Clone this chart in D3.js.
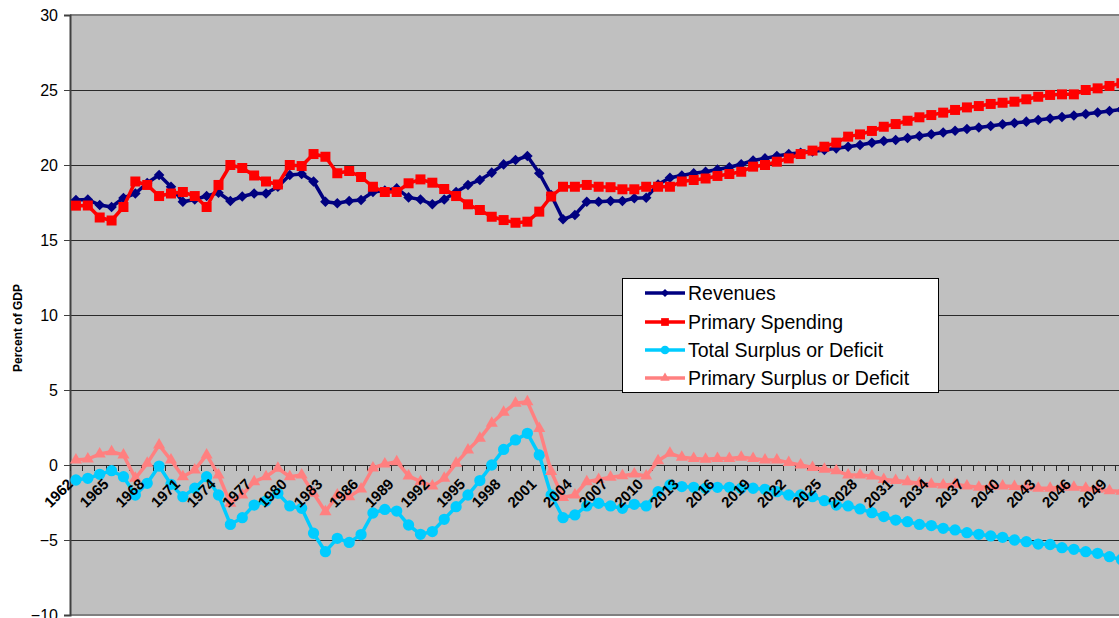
<!DOCTYPE html>
<html>
<head>
<meta charset="utf-8">
<script src="https://cdn.jsdelivr.net/npm/d3@7"></script>
<style>
  html, body { margin: 0; padding: 0; background: #ffffff; }
  svg { display: block; font-family: "Liberation Sans", Arial, sans-serif; }
</style>
</head>
<body>
<svg id="chart" width="1119" height="618"></svg>
<script>
// ---------------- data ----------------
const years = d3.range(1962, 2051);
const tickLabels = ["1962","1965","1968","1971","1974","1977","1980","1983","1986","1989","1992","1995","1998","2001","2004","2007","2010","2013","2016","2019","2022","2025","2028","2031","2034","2037","2040","2043","2046","2049"];
const yTicks = [-10, -5, 0, 5, 10, 15, 20, 25, 30];

const revenues = [17.67,17.7,17.33,17.2,17.8,18.1,18.8,19.33,18.55,17.55,17.7,17.93,18.15,17.6,17.9,18.1,18.1,18.55,19.33,19.4,18.9,17.55,17.45,17.6,17.67,18.2,18.3,18.44,17.84,17.7,17.38,17.7,18.2,18.67,19.0,19.49,20.04,20.33,20.6,19.45,18.0,16.38,16.67,17.55,17.55,17.6,17.6,17.78,17.82,18.7,19.15,19.3,19.45,19.55,19.7,19.85,20.05,20.3,20.44,20.6,20.73,20.82,20.9,21.0,21.11,21.22,21.33,21.48,21.6,21.67,21.8,21.93,22.05,22.17,22.28,22.4,22.5,22.6,22.72,22.8,22.89,23.0,23.1,23.2,23.3,23.4,23.5,23.6,23.7];
const primarySpending = [17.29,17.3,16.5,16.3,17.2,18.9,18.67,17.93,18.1,18.2,17.93,17.2,18.67,20.0,19.8,19.3,18.9,18.7,20.0,19.93,20.73,20.55,19.45,19.6,19.2,18.55,18.2,18.2,18.78,19.04,18.82,18.4,17.93,17.38,17.0,16.55,16.33,16.15,16.22,16.89,17.9,18.55,18.55,18.67,18.55,18.52,18.38,18.38,18.55,18.55,18.55,18.9,19.0,19.1,19.27,19.4,19.55,19.89,20.0,20.22,20.44,20.73,20.96,21.22,21.49,21.89,22.04,22.27,22.55,22.73,22.95,23.18,23.33,23.49,23.67,23.84,23.93,24.07,24.15,24.22,24.38,24.55,24.67,24.71,24.71,25.0,25.11,25.27,25.45];
const totalSurplus = [-1.0,-0.89,-0.62,-0.38,-0.78,-2.0,-1.22,-0.07,-1.29,-2.11,-1.55,-0.78,-2.0,-3.96,-3.51,-2.67,-2.4,-1.89,-2.73,-2.89,-4.55,-5.78,-4.89,-5.16,-4.64,-3.2,-2.96,-3.07,-4.0,-4.62,-4.44,-3.62,-2.78,-2.0,-1.04,0.0,1.04,1.67,2.11,0.67,-2.0,-3.51,-3.33,-2.73,-2.55,-2.73,-2.89,-2.62,-2.73,-1.78,-1.33,-1.44,-1.49,-1.55,-1.49,-1.49,-1.55,-1.55,-1.62,-1.78,-2.0,-2.0,-2.11,-2.38,-2.67,-2.73,-2.93,-3.18,-3.44,-3.67,-3.78,-3.96,-4.04,-4.22,-4.33,-4.51,-4.62,-4.73,-4.82,-5.0,-5.11,-5.27,-5.3,-5.51,-5.62,-5.78,-5.89,-6.11,-6.3];
const primarySurplus = [0.33,0.4,0.73,0.89,0.67,-0.89,0.11,1.33,0.33,-0.78,-0.33,0.67,-0.67,-2.55,-2.0,-1.11,-0.78,-0.22,-0.78,-0.67,-1.89,-3.11,-2.0,-2.11,-1.6,-0.2,0.07,0.22,-0.73,-1.11,-1.4,-0.89,0.11,1.0,1.78,2.78,3.51,4.11,4.22,2.44,-0.44,-2.16,-2.0,-1.11,-0.96,-0.82,-0.71,-0.6,-0.73,0.29,0.78,0.51,0.44,0.38,0.44,0.44,0.51,0.44,0.33,0.33,0.16,0.0,-0.16,-0.29,-0.38,-0.67,-0.67,-0.73,-0.96,-1.04,-1.11,-1.22,-1.29,-1.33,-1.29,-1.4,-1.49,-1.44,-1.4,-1.44,-1.49,-1.55,-1.55,-1.49,-1.49,-1.55,-1.62,-1.71,-1.75];

const seriesNames = ["Revenues", "Primary Spending", "Total Surplus or Deficit", "Primary Surplus or Deficit"];
const seriesValues = [revenues, primarySpending, totalSurplus, primarySurplus];
const yTitle = "Percent of GDP";

// ---------------- styles ----------------
const colors = ["#000080", "#FF0000", "#00CCFF", "#FF8080"];
const symbols = [
  {type: d3.symbolSquare, size: 56, rotate: 45},   // diamond
  {type: d3.symbolSquare, size: 100, rotate: 0},
  {type: d3.symbolCircle, size: 100, rotate: 0},
  {type: d3.symbolTriangle, size: 64, rotate: 0}
];

// ---------------- layout ----------------
const svg = d3.select("#chart");
const plotLeft = 70, plotTop = 15, plotBottom = 615;
const catW = 11.88;
const x = d3.scaleBand().domain(years).range([plotLeft, plotLeft + years.length * catW]).padding(0);
const y = d3.scaleLinear().domain([-10, 30]).range([plotBottom, plotTop]);
const cx = d => x(d) + x.bandwidth() / 2;

// plot background
svg.append("rect")
  .attr("x", plotLeft).attr("y", plotTop)
  .attr("width", x.range()[1] - plotLeft).attr("height", plotBottom - plotTop)
  .attr("fill", "#C0C0C0");

// gridlines
svg.append("g").selectAll("line").data(yTicks.filter(v => v !== 30 && v !== -10)).join("line")
  .attr("x1", plotLeft).attr("x2", x.range()[1])
  .attr("y1", d => Math.round(y(d)) + 0.5).attr("y2", d => Math.round(y(d)) + 0.5)
  .attr("stroke", "#2a2a2a").attr("stroke-width", 1);

// plot border (top / bottom)
svg.append("line").attr("x1", plotLeft).attr("x2", x.range()[1])
  .attr("y1", y(30)).attr("y2", y(30)).attr("stroke", "#808080").attr("stroke-width", 2);
svg.append("line").attr("x1", plotLeft).attr("x2", x.range()[1])
  .attr("y1", y(-10)).attr("y2", y(-10)).attr("stroke", "#808080").attr("stroke-width", 2);

// y axis
const yAxis = d3.axisLeft(y).tickValues(yTicks).tickSize(6).tickPadding(6).tickFormat(d3.format("d"));
const gy = svg.append("g").attr("transform", `translate(${plotLeft},0)`).call(yAxis);
gy.select(".domain").attr("stroke", "#404040").attr("stroke-width", 2);
gy.selectAll(".tick line").attr("stroke", "#404040");
gy.selectAll(".tick text").attr("font-size", 16).attr("fill", "#000")
  .attr("font-family", "Liberation Sans, Arial, sans-serif");

// x axis on zero line: tick marks at category boundaries
svg.append("g").selectAll("line").data(years).join("line")
  .attr("x1", d => Math.round(x(d)) + 0.5).attr("x2", d => Math.round(x(d)) + 0.5)
  .attr("y1", y(0)).attr("y2", y(0) + 6)
  .attr("stroke", "#2a2a2a").attr("stroke-width", 1);

// series
seriesValues.forEach((vals, i) => {
  const pts = years.map((yr, j) => [yr, vals[j]]);
  svg.append("path").datum(pts)
    .attr("fill", "none").attr("stroke", colors[i]).attr("stroke-width", 3.5)
    .attr("stroke-linejoin", "round")
    .attr("d", d3.line().x(d => cx(d[0])).y(d => y(d[1])));
  const sym = d3.symbol().type(symbols[i].type).size(symbols[i].size);
  svg.append("g").selectAll("path").data(pts).join("path")
    .attr("transform", d => `translate(${cx(d[0])},${y(d[1])}) rotate(${symbols[i].rotate})`)
    .attr("d", sym).attr("fill", colors[i]);
});

// x tick labels (rotated, drawn above the series)
svg.append("g").selectAll("text").data(tickLabels).join("text")
  .attr("transform", d => `translate(${x(+d) + 4},${y(0) + 20}) rotate(-45)`)
  .attr("text-anchor", "end")
  .attr("font-size", 15).attr("font-weight", "bold").attr("fill", "#000")
  .text(d => d);

// y axis title
svg.append("text")
  .attr("transform", `translate(22,328) rotate(-90)`)
  .attr("text-anchor", "middle")
  .attr("font-size", 12).attr("font-weight", "bold").attr("fill", "#000")
  .text(yTitle);

// legend
const lg = svg.append("g");
lg.append("rect").attr("x", 622.5).attr("y", 278.5).attr("width", 316).attr("height", 114)
  .attr("fill", "#fff").attr("stroke", "#000").attr("stroke-width", 1);
const legY = [293, 322, 350, 378];
seriesNames.forEach((name, i) => {
  const yy = legY[i];
  lg.append("line").attr("x1", 645).attr("x2", 685).attr("y1", yy).attr("y2", yy)
    .attr("stroke", colors[i]).attr("stroke-width", 3.5);
  lg.append("path")
    .attr("transform", `translate(665,${yy}) rotate(${symbols[i].rotate})`)
    .attr("d", d3.symbol().type(symbols[i].type).size(symbols[i].size * 0.6)).attr("fill", colors[i]);
  lg.append("text").attr("x", 688).attr("y", yy + 7)
    .attr("font-size", 19.5).attr("fill", "#000").text(name);
});
</script>
</body>
</html>
